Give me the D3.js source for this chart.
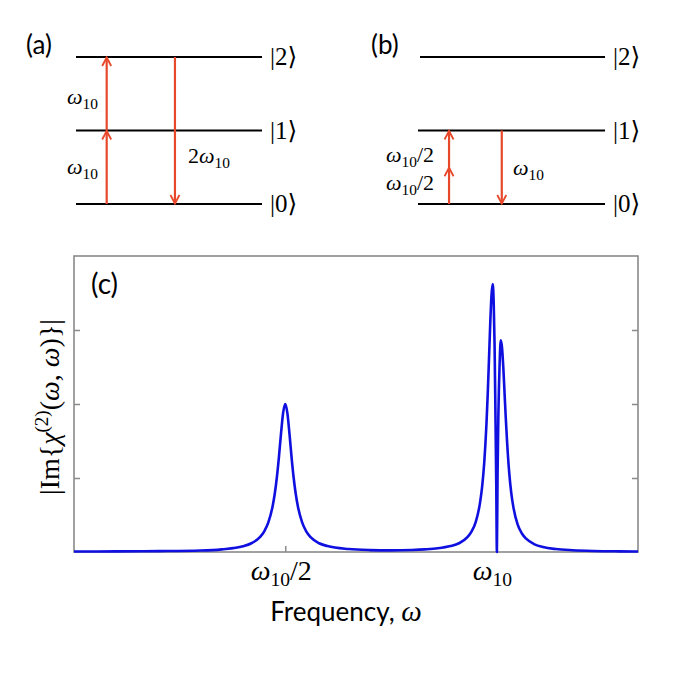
<!DOCTYPE html>
<html>
<head>
<meta charset="utf-8">
<script src="https://cdn.jsdelivr.net/npm/d3@7"></script>
<style>
  html, body { margin: 0; padding: 0; background: #fff; }
  svg { display: block; }
  .sans { font-family: Lato, "Open Sans", sans-serif; }
  .math { font-family: "Liberation Serif", "DejaVu Serif", serif; }
</style>
</head>
<body>
<svg id="chart" width="680" height="680"></svg>
<script>
// ---------------- data ----------------
// frequency in units of omega_10
const freq = [0, 0.1, 0.2, 0.3, 0.35, 0.4, 0.42, 0.44, 0.45, 0.46, 0.47, 0.475, 0.48, 0.485, 0.49, 0.495, 0.5,
  0.505, 0.51, 0.515, 0.52, 0.525, 0.53, 0.54, 0.55, 0.56, 0.58, 0.6, 0.65, 0.7, 0.75, 0.8, 0.83,
  0.8612, 0.8912, 0.9112, 0.9312, 0.9412, 0.9512, 0.9612, 0.9662, 0.9712, 0.9762, 0.9792, 0.9822, 0.9852, 0.9882, 0.9912,
  0.9935, 0.9955, 0.9976, 0.9995, 1.001, 1.0025, 1.0045, 1.0075, 1.0102,
  1.0132, 1.0162, 1.0192, 1.0222, 1.0252, 1.0302, 1.0352, 1.0402, 1.0502, 1.0602, 1.0702, 1.0902, 1.1102, 1.1402,
  1.1802, 1.2302, 1.2902, 1.335];
const imChi = [0.006, 0.008, 0.012, 0.02, 0.036, 0.077, 0.118, 0.2, 0.276, 0.4, 0.615, 0.78, 1.0, 1.28, 1.6, 1.88, 2.0,
  1.88, 1.6, 1.28, 1.0, 0.78, 0.615, 0.4, 0.276, 0.2, 0.118, 0.08, 0.04, 0.026, 0.022, 0.028, 0.036,
  0.05, 0.08, 0.118, 0.2, 0.278, 0.41, 0.67, 0.89, 1.22, 1.72, 2.12, 2.59, 3.08, 3.47, 3.62,
  3.35, 2.8, 1.85, 0.9, 0.0, 1.0, 1.85, 2.55, 2.86,
  2.76, 2.49, 2.14, 1.79, 1.48, 1.07, 0.79, 0.60, 0.37, 0.25, 0.18, 0.104, 0.067, 0.040,
  0.024, 0.014, 0.009, 0.007];
const xTickValues = [0.5, 1.0];
const xTickLabels = [["ω", "10", "/2"], ["ω", "10", ""]];
const yTickValues = [1, 2, 3];

// energy level diagrams
const levels = [0, 1, 2];
const kets = ["|0⟩", "|1⟩", "|2⟩"];
// transitions: level from -> to, position along the level line (fraction), arrowhead fractions
const transA = [
  { from: 0, to: 1, at: 0.165, heads: [1] },
  { from: 1, to: 2, at: 0.165, heads: [1] },
  { from: 2, to: 0, at: 0.532, heads: [1] }
];
const transB = [
  { from: 0, to: 1, at: 0.166, heads: [0.5, 1] },
  { from: 1, to: 0, at: 0.448, heads: [1] }
];

// ---------------- drawing ----------------
const svg = d3.select("#chart");
const red = "#e8482a";

function drawDiagram(g, xr, levelRanges, trans) {
  const y = d3.scaleLinear().domain([0, 2]).range([204, 57]);
  const x = d3.scaleLinear().domain([0, 1]).range(xr);
  levels.forEach(l => {
    const r = levelRanges[l];
    g.append("line").attr("x1", r[0]).attr("x2", r[1])
      .attr("y1", y(l)).attr("y2", y(l))
      .attr("stroke", "#000").attr("stroke-width", 2);
    g.append("text").attr("class", "math")
      .attr("x", r[1] + 8).attr("y", y(l) + 8)
      .attr("font-size", 25).text(kets[l]);
  });
  trans.forEach(t => {
    const xp = x(t.at);
    const y0 = y(t.from), y1 = y(t.to);
    g.append("line").attr("x1", xp).attr("x2", xp)
      .attr("y1", y0).attr("y2", y1)
      .attr("stroke", red).attr("stroke-width", 2.2);
    const dir = y1 < y0 ? 1 : -1; // up -> head points up
    t.heads.forEach(h => {
      const yh = y0 + (y1 - y0) * h;
      g.append("path")
        .attr("d", `M${xp - 4.5},${yh + dir * 9} L${xp},${yh + dir * 0.5} L${xp + 4.5},${yh + dir * 9}`)
        .attr("fill", "none").attr("stroke", red).attr("stroke-width", 1.8)
        .attr("stroke-linejoin", "miter");
    });
  });
}

function mathLabel(g, x, y, parts, size, anchor) {
  const t = g.append("text").attr("class", "math").attr("x", x).attr("y", y)
    .attr("font-size", size).attr("text-anchor", anchor || "start");
  t.append("tspan").attr("font-style", "italic").text(parts[0]);
  t.append("tspan").attr("font-size", size * 0.7).attr("dy", size * 0.22).text(parts[1]);
  if (parts[2]) t.append("tspan").attr("dy", -size * 0.22).text(parts[2]);
  return t;
}

// panel (a)
const ga = svg.append("g");
ga.append("text").attr("class", "sans").attr("x", 26).attr("y", 54).attr("font-size", 26).text("(a)");
drawDiagram(ga, [76, 262], [[76, 262], [76, 262], [76, 262]], transA);
mathLabel(ga, 67, 104, ["ω", "10", ""], 22);
mathLabel(ga, 67, 174, ["ω", "10", ""], 22);
{
  const t = ga.append("text").attr("class", "math").attr("x", 188).attr("y", 163).attr("font-size", 22);
  t.append("tspan").text("2");
  t.append("tspan").attr("font-style", "italic").text("ω");
  t.append("tspan").attr("font-size", 22 * 0.7).attr("dy", 22 * 0.22).text("10");
}

// panel (b)
const gb = svg.append("g");
gb.append("text").attr("class", "sans").attr("x", 371).attr("y", 54).attr("font-size", 26).text("(b)");
drawDiagram(gb, [418, 605], [[418, 605], [418, 605], [420, 605]], transB);
mathLabel(gb, 386, 162, ["ω", "10", "/2"], 22);
mathLabel(gb, 386, 190, ["ω", "10", "/2"], 22);
mathLabel(gb, 513, 175, ["ω", "10", ""], 22);

// panel (c)
const m = { left: 74, right: 638, top: 256, bottom: 552 };
const x = d3.scaleLinear().domain([0, 1.335]).range([m.left, m.right]);
const y = d3.scaleLinear().domain([0, 4]).range([m.bottom, m.top]);
const gc = svg.append("g");
const axisColor = "#8a8a8a";

gc.append("g").attr("transform", `translate(${m.left},0)`)
  .call(d3.axisLeft(y).tickValues(yTickValues).tickSize(-6).tickFormat(""));
gc.append("g").attr("transform", `translate(${m.right},0)`)
  .call(d3.axisRight(y).tickValues(yTickValues).tickSize(-6).tickFormat(""));
gc.append("g").attr("transform", `translate(0,${m.bottom})`)
  .call(d3.axisBottom(x).tickValues(xTickValues).tickSize(-6).tickFormat(""));
gc.selectAll(".domain").remove();
gc.selectAll(".tick line").attr("stroke", axisColor).attr("stroke-width", 1.5);

gc.append("rect").attr("x", m.left).attr("y", m.top)
  .attr("width", m.right - m.left).attr("height", m.bottom - m.top)
  .attr("fill", "none").attr("stroke", axisColor).attr("stroke-width", 1.6);

const pts = freq.map((f, i) => [f, imChi[i]]);
gc.append("path").datum(pts)
  .attr("d", d3.line().x(d => x(d[0])).y(d => y(d[1])).curve(d3.curveMonotoneX))
  .attr("fill", "none").attr("stroke", "#0f0fe0").attr("stroke-width", 2.6)
  .attr("stroke-linejoin", "round");

// x tick labels
xTickValues.forEach((v, i) => {
  mathLabel(gc, x(v) - 4, 580, xTickLabels[i], 28, "middle");
});

gc.append("text").attr("class", "sans").attr("x", 91).attr("y", 294).attr("font-size", 28).text("(c)");

// x axis title
{
  const t = gc.append("text").attr("class", "sans").attr("x", 346).attr("y", 621)
    .attr("font-size", 26).attr("text-anchor", "middle");
  t.append("tspan").text("Frequency, ");
  t.append("tspan").attr("font-family", "Liberation Serif, serif")
    .attr("font-style", "italic").attr("font-size", 29).text("ω");
}

// y axis title
{
  const t = gc.append("text").attr("class", "math")
    .attr("transform", "translate(59,407) rotate(-90)")
    .attr("text-anchor", "middle").attr("font-size", 28);
  t.append("tspan").text("|Im{");
  t.append("tspan").attr("font-style", "italic").text("χ");
  t.append("tspan").attr("font-size", 19).attr("dy", -11).text("(2)");
  t.append("tspan").attr("dy", 11).text("(");
  t.append("tspan").attr("font-style", "italic").text("ω");
  t.append("tspan").text(", ");
  t.append("tspan").attr("font-style", "italic").text("ω");
  t.append("tspan").text(")}|");
}
</script>
</body>
</html>
